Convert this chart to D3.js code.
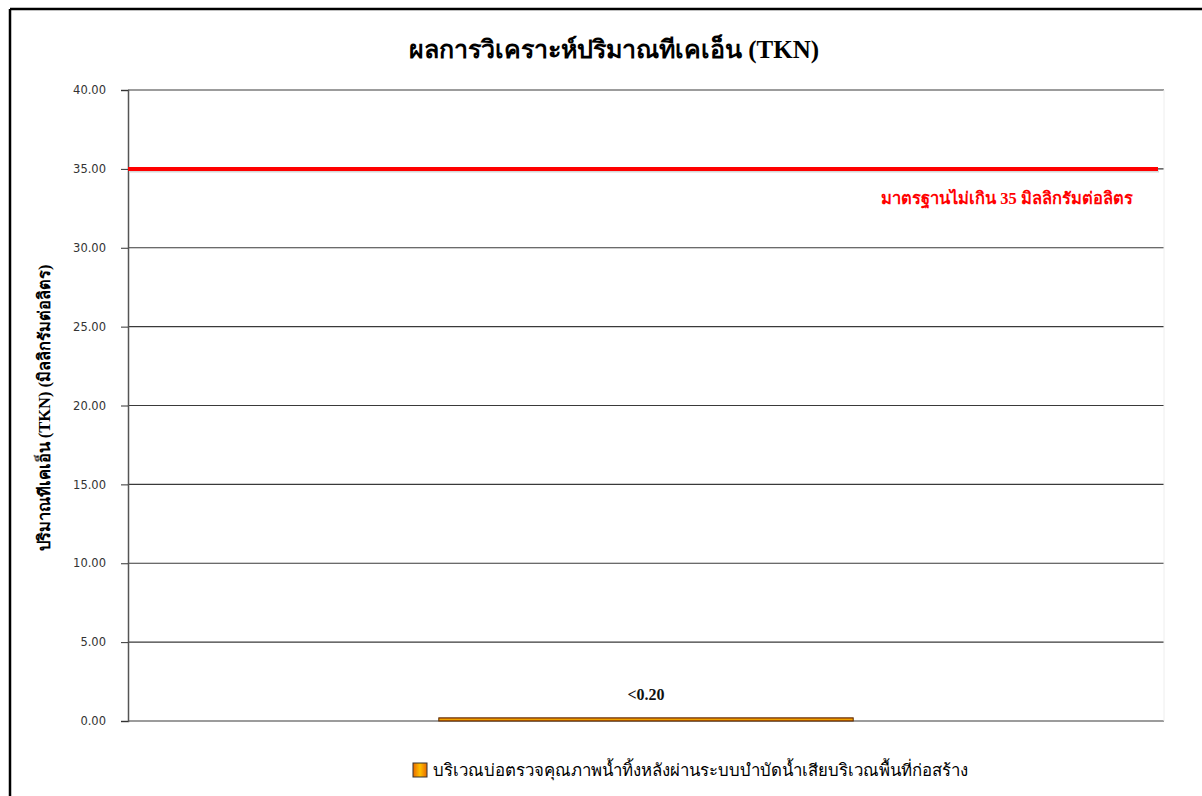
<!DOCTYPE html>
<html>
<head>
<meta charset="utf-8">
<script src="https://cdn.jsdelivr.net/npm/d3@7"></script>
<style>
  body { margin: 0; background: #fff; }
  svg text { font-family: "Liberation Serif", "Noto Sans", serif; }
</style>
</head>
<body>
<div id="chart"></div>
<script>
// chart data
var categories = ["บริเวณบ่อตรวจคุณภาพน้ำทิ้งหลังผ่านระบบบำบัดน้ำเสียบริเวณพื้นที่ก่อสร้าง"];
var values = [0.2];
var valueLabels = ["<0.20"];
var yTicks = [0, 5, 10, 15, 20, 25, 30, 35, 40];
var standardValue = 35;
var standardLabel = "มาตรฐานไม่เกิน 35 มิลลิกรัมต่อลิตร";
var title = "ผลการวิเคราะห์ปริมาณทีเคเอ็น (TKN)";
var yLabel = "ปริมาณทีเคเอ็น (TKN) (มิลลิกรัมต่อลิตร)";

var W = 1202, H = 796;
var margin = { top: 90, right: 38, bottom: 75, left: 128 },
  width = W - margin.left - margin.right,
  height = H - margin.top - margin.bottom;

var root = d3.select("#chart").append("svg")
  .attr("width", W)
  .attr("height", H);

// outer frame (cut off on the right / bottom like the source)
root.append("line").attr("x1", 10).attr("x2", W).attr("y1", 9).attr("y2", 9)
  .attr("stroke", "#000").attr("stroke-width", 2.5);
root.append("line").attr("x1", 10).attr("x2", 10).attr("y1", 9).attr("y2", H)
  .attr("stroke", "#000").attr("stroke-width", 2.5);

var defs = root.append("defs");
var grad = defs.append("linearGradient").attr("id", "barGrad")
  .attr("x1", "0").attr("x2", "0").attr("y1", "0").attr("y2", "1");
grad.append("stop").attr("offset", "0%").attr("stop-color", "#d85a00");
grad.append("stop").attr("offset", "50%").attr("stop-color", "#f0a800");
grad.append("stop").attr("offset", "100%").attr("stop-color", "#d85a00");

var legGrad = defs.append("linearGradient").attr("id", "legGrad")
  .attr("x1", "0").attr("x2", "1").attr("y1", "0").attr("y2", "0");
legGrad.append("stop").attr("offset", "0%").attr("stop-color", "#e86a00");
legGrad.append("stop").attr("offset", "50%").attr("stop-color", "#ffc000");
legGrad.append("stop").attr("offset", "100%").attr("stop-color", "#e86a00");

var svg = root.append("g")
  .attr("transform", "translate(" + margin.left + "," + margin.top + ")");

var x = d3.scaleBand().domain(categories).range([0, width]).paddingInner(0).paddingOuter(0.75);
var y = d3.scaleLinear().domain([0, 40]).range([height, 0]);

// gridlines
svg.append("g")
  .selectAll("line")
  .data(yTicks)
  .enter()
  .append("line")
  .attr("x1", 0)
  .attr("x2", width)
  .attr("y1", d => y(d))
  .attr("y2", d => y(d))
  .attr("stroke", "#3a3a3a")
  .attr("stroke-width", 1.2);

// faint right edge
svg.append("line").attr("x1", width).attr("x2", width).attr("y1", 0).attr("y2", height)
  .attr("stroke", "#eee");

// y axis
var yAxis = svg.append("g")
  .call(d3.axisLeft(y).tickValues(yTicks).tickFormat(d3.format(".2f")).tickSize(7).tickPadding(15));
yAxis.select(".domain").attr("stroke", "#555").attr("stroke-width", 1.5);
yAxis.selectAll(".tick line").attr("stroke", "#333");
yAxis.selectAll("text")
  .style("font-family", "Tahoma, 'DejaVu Sans', sans-serif")
  .attr("font-size", "11.5px")
  .attr("fill", "#333");

// bars
svg.selectAll("rect.bar")
  .data(values)
  .enter()
  .append("rect")
  .attr("class", "bar")
  .attr("x", (d, i) => x(categories[i]))
  .attr("width", x.bandwidth())
  .attr("y", d => y(d))
  .attr("height", d => y(0) - y(d))
  .attr("fill", "url(#barGrad)")
  .attr("stroke", "#5a2a00")
  .attr("stroke-width", 1);

// value labels
svg.selectAll("text.vlabel")
  .data(values)
  .enter()
  .append("text")
  .attr("class", "vlabel")
  .attr("x", (d, i) => x(categories[i]) + x.bandwidth() / 2)
  .attr("y", d => y(d) - 18)
  .attr("text-anchor", "middle")
  .attr("font-size", "16px")
  .attr("font-weight", "bold")
  .attr("fill", "#111")
  .text((d, i) => valueLabels[i]);

// standard line with shadow
svg.append("line")
  .attr("x1", 2).attr("x2", width - 5)
  .attr("y1", y(standardValue) + 2.5).attr("y2", y(standardValue) + 2.5)
  .attr("stroke", "#bbb").attr("stroke-width", 2).attr("opacity", 0.6);
svg.append("line")
  .attr("x1", 0).attr("x2", width - 6)
  .attr("y1", y(standardValue)).attr("y2", y(standardValue))
  .attr("stroke", "#ff0000").attr("stroke-width", 4);

svg.append("text")
  .attr("x", width - 157)
  .attr("y", y(standardValue) + 35)
  .attr("text-anchor", "middle")
  .attr("font-size", "16.5px")
  .attr("font-weight", "bold")
  .attr("fill", "#ff0000")
  .text(standardLabel);

// title
root.append("text")
  .attr("x", 614)
  .attr("y", 58)
  .attr("text-anchor", "middle")
  .attr("font-size", "25px")
  .attr("font-weight", "bold")
  .attr("fill", "#000")
  .text(title);

// y label
root.append("text")
  .attr("transform", "translate(50,408) rotate(-90)")
  .attr("text-anchor", "middle")
  .attr("font-size", "16.5px")
  .attr("font-weight", "bold")
  .attr("fill", "#000")
  .text(yLabel);

// legend
var leg = root.append("g").attr("transform", "translate(413,763)");
leg.append("rect").attr("width", 14).attr("height", 14)
  .attr("fill", "url(#legGrad)").attr("stroke", "#333").attr("stroke-width", 1);
leg.append("text")
  .attr("x", 20).attr("y", 13)
  .attr("font-size", "16.8px")
  .attr("fill", "#000")
  .text(categories[0]);
</script>
</body>
</html>
